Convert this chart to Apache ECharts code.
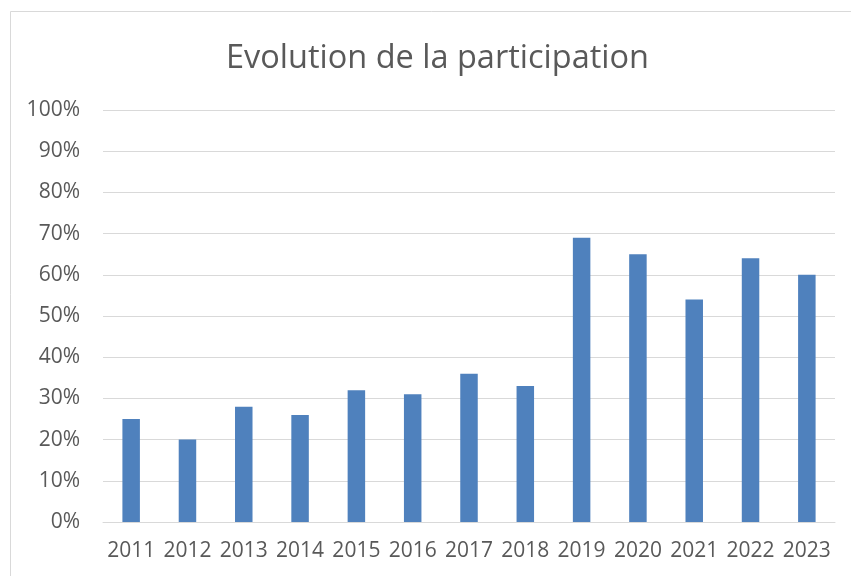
<!DOCTYPE html>
<html>
<head>
<meta charset="utf-8">
<script src="https://cdn.jsdelivr.net/npm/echarts@6/dist/echarts.min.js"></script>
<style>
  html, body { margin: 0; padding: 0; background: #fff; }
  #participation-chart { width: 851px; height: 576px; }
</style>
</head>
<body>
<div id="participation-chart"></div>
<script>
var years = ['2011', '2012', '2013', '2014', '2015', '2016', '2017', '2018', '2019', '2020', '2021', '2022', '2023'];
var participation = [25, 20, 28, 26, 32, 31, 36, 33, 69, 65, 54, 64, 60];

var dom = document.getElementById('participation-chart');
var myChart = echarts.init(dom, null, { renderer: 'canvas' });

var option = {
    backgroundColor: '#fff',
    title: {
        text: 'Evolution de la participation',
        left: 221,
        top: 37,
        textStyle: {
            fontFamily: 'Open Sans',
            fontSize: 32.5,
            fontWeight: 'normal',
            color: '#595959'
        }
    },
    graphic: [
        {
            type: 'rect',
            shape: { x: 10.5, y: 11.5, width: 900, height: 700 },
            style: { fill: 'none', stroke: '#d9d9d9', lineWidth: 1 },
            silent: true
        }
    ],
    grid: {
        left: 103,
        right: 16,
        top: 110,
        bottom: 54
    },
    xAxis: {
        type: 'category',
        data: years,
        axisTick: { show: false },
        axisLine: { lineStyle: { color: '#d9d9d9', width: 1 } },
        axisLabel: {
            interval: 0,
            hideOverlap: false,
            fontFamily: 'Open Sans',
            fontSize: 21,
            color: '#595959',
            margin: 19
        }
    },
    yAxis: {
        type: 'value',
        min: 0,
        max: 100,
        interval: 10,
        axisLine: { show: false },
        axisTick: { show: false },
        splitLine: { lineStyle: { color: '#d9d9d9', width: 1 } },
        axisLabel: {
            formatter: '{value}%',
            fontFamily: 'Open Sans',
            fontSize: 21,
            color: '#595959',
            margin: 23
        }
    },
    series: [
        {
            name: 'Participation',
            type: 'bar',
            data: participation,
            barWidth: 17.5,
            itemStyle: { color: '#4f81bd' }
        }
    ]
};

myChart.setOption(option);
window.addEventListener('resize', myChart.resize);
</script>
</body>
</html>
